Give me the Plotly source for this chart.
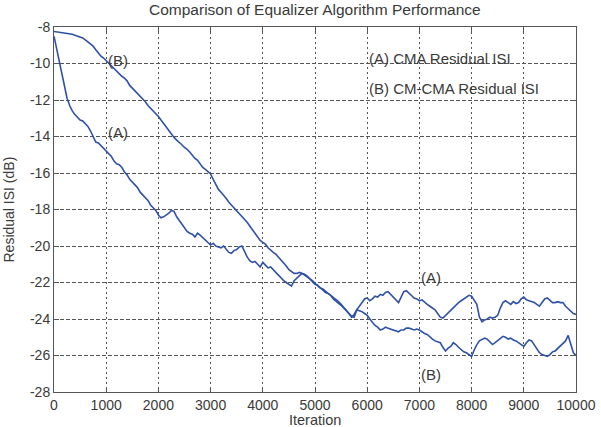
import plotly.graph_objects as go

iterations = list(range(0, 10001, 50))

cma_isi = [
    -8.5, -9.2, -9.9, -10.6, -11.2, -11.9, -12.3, -12.6, -12.8, -12.95,
    -13.1, -13.15, -13.3, -13.45, -13.7, -14.0, -14.3, -14.35, -14.5, -14.7,
    -14.85, -14.95, -15.1, -15.35, -15.5, -15.55, -15.7, -15.95, -16.1, -16.35,
    -16.5, -16.6, -16.8, -17.05, -17.2, -17.3, -17.5, -17.75, -17.9, -18.05,
    -18.3, -18.45, -18.4, -18.3, -18.2, -18.05, -18.1, -18.4, -18.6, -18.75,
    -19.0, -19.2, -19.3, -19.35, -19.5, -19.3, -19.4, -19.55, -19.7, -19.8,
    -19.95, -19.85, -20.0, -20.05, -20.1, -20.0, -20.2, -20.35, -20.4, -20.25,
    -20.2, -20.05, -20.0, -20.3, -20.6, -20.8, -20.9, -20.85, -21.0, -21.15,
    -20.9, -21.05, -21.2, -21.15, -21.3, -21.5, -21.6, -21.75, -21.9, -22.0,
    -22.1, -22.2, -21.9, -21.75, -21.6, -21.5, -21.6, -21.7, -21.8, -21.9,
    -22.05, -22.2, -22.3, -22.35, -22.5, -22.6, -22.7, -22.8, -22.9, -23.05,
    -23.2, -23.35, -23.5, -23.7, -23.9, -23.75, -23.5, -23.3, -23.1, -22.9,
    -22.85, -23.0, -22.9, -22.75, -22.8, -22.65, -22.7, -22.55, -22.5, -22.65,
    -22.8, -23.0, -23.1, -22.8, -22.5, -22.45, -22.6, -22.75, -22.85, -22.9,
    -23.0, -22.95, -23.1, -23.2, -23.3, -23.4, -23.5, -23.7, -23.9, -23.95,
    -23.8, -23.65, -23.5, -23.35, -23.2, -23.1, -23.0, -22.9, -22.8, -22.7,
    -22.75, -22.95, -23.2, -23.9, -24.15, -24.05, -24.0, -23.9, -23.95, -23.9,
    -23.8, -23.4, -23.1, -23.0, -23.1, -23.2, -23.05, -23.15, -23.1, -22.9,
    -22.8, -22.95, -23.0, -23.05, -23.1, -23.2, -23.3, -23.1, -22.9, -22.85,
    -23.0, -23.1, -23.1, -23.05, -23.1, -23.1, -23.3, -23.45, -23.6, -23.7,
    -23.75,
]

cmcma_isi = [
    -8.25, -8.27, -8.28, -8.3, -8.3, -8.33, -8.35, -8.4, -8.45, -8.5,
    -8.55, -8.6, -8.7, -8.8, -8.9, -9.05, -9.25, -9.45, -9.6, -9.7,
    -9.85, -9.95, -10.1, -10.3, -10.4, -10.55, -10.7, -10.8, -10.95, -11.2,
    -11.35, -11.45, -11.6, -11.8, -11.95, -12.1, -12.3, -12.45, -12.6, -12.7,
    -12.9, -13.1, -13.3, -13.5, -13.7, -13.85, -14.05, -14.2, -14.3, -14.45,
    -14.6, -14.7, -14.85, -15.05, -15.2, -15.3, -15.5, -15.7, -15.8, -15.9,
    -16.05, -16.35, -16.65, -16.9, -17.05, -17.2, -17.4, -17.6, -17.75, -17.9,
    -18.05, -18.25, -18.4, -18.5, -18.7, -18.9, -19.1, -19.3, -19.5, -19.7,
    -19.8, -19.9, -20.1, -20.25, -20.35, -20.45, -20.6, -20.8, -20.9, -21.1,
    -21.3, -21.4, -21.5, -21.5, -21.45, -21.5, -21.55, -21.65, -21.8, -21.95,
    -22.1, -22.15, -22.3, -22.45, -22.55, -22.6, -22.7, -22.9, -23.0, -23.1,
    -23.25, -23.4, -23.55, -23.75, -23.85, -23.9, -23.5, -23.55, -23.6, -23.7,
    -23.8, -24.0, -24.2, -24.35, -24.45, -24.6, -24.55, -24.45, -24.5, -24.55,
    -24.6, -24.65, -24.7, -24.6, -24.6, -24.5, -24.5, -24.55, -24.6, -24.55,
    -24.6, -24.7, -24.8, -24.85, -25.0, -25.1, -25.2, -25.25, -25.3, -25.55,
    -25.75, -25.6, -25.5, -25.3, -25.4, -25.55, -25.7, -25.8, -25.85, -25.95,
    -26.05, -25.7, -25.4, -25.2, -25.1, -25.05, -25.1, -25.25, -25.4, -25.3,
    -25.2, -25.05, -24.95, -25.0, -25.1, -25.05, -25.15, -25.2, -25.3, -25.4,
    -25.5, -25.3, -25.15, -25.2, -25.4, -25.6, -25.85, -25.95, -26.0, -26.05,
    -25.95, -25.8, -25.75, -25.6, -25.5, -25.35, -25.2, -24.9, -25.4, -25.85,
    -26.0,
]

x_ticks = list(range(0, 10001, 1000))
x_ticktext = [str(v) for v in x_ticks]
y_ticks = list(range(-28, -7, 2))
y_ticktext = [str(v) for v in y_ticks]

line_color = "#2f52a8"
text_color = "#3a3a3a"
font_family = "Liberation Sans, Arial, sans-serif"

fig = go.Figure()
fig.add_trace(go.Scatter(x=iterations, y=cma_isi, mode="lines",
                         line=dict(color=line_color, width=1.6), showlegend=False))
fig.add_trace(go.Scatter(x=iterations, y=cmcma_isi, mode="lines",
                         line=dict(color=line_color, width=1.6), showlegend=False))

labels = [
    (1000, -9.85, "(B)"),
    (1000, -13.8, "(A)"),
    (6000, -9.7, "(A) CMA Residual ISI"),
    (6000, -11.35, "(B) CM-CMA Residual ISI"),
    (7000, -21.75, "(A)"),
    (7000, -27.05, "(B)"),
]
for lx, ly, lt in labels:
    fig.add_annotation(x=lx, y=ly, text=lt, xref="x", yref="y", showarrow=False,
                       xanchor="left", yanchor="middle",
                       font=dict(size=15, color=text_color, family=font_family))

fig.add_annotation(x=0.5, y=1.0, xref="paper", yref="paper", yshift=18,
                   text="Comparison of Equalizer Algorithm Performance", showarrow=False,
                   xanchor="center", yanchor="middle",
                   font=dict(size=15.5, color=text_color, family=font_family))
fig.add_annotation(x=0.5, y=0.0, xref="paper", yref="paper", yshift=-28,
                   text="Iteration", showarrow=False,
                   xanchor="center", yanchor="middle",
                   font=dict(size=14.5, color=text_color, family=font_family))
fig.add_annotation(x=0.0, y=0.5, xref="paper", yref="paper", xshift=-46,
                   text="Residual ISI (dB)", showarrow=False, textangle=-90,
                   xanchor="center", yanchor="middle",
                   font=dict(size=14, color=text_color, family=font_family))

axis_common = dict(
    showline=True, linecolor="#555555", linewidth=1, mirror="ticks",
    ticks="inside", ticklen=5, tickcolor="#555555",
    showgrid=True, gridcolor="#555555", gridwidth=1,
    zeroline=False, automargin=False,
    tickfont=dict(size=14, color=text_color, family=font_family),
)

fig.update_xaxes(range=[0, 10000], tickvals=x_ticks, ticktext=x_ticktext,
                 griddash="2px,3px", **axis_common)
fig.update_yaxes(range=[-28, -8], tickvals=y_ticks, ticktext=y_ticktext,
                 griddash="4px,2px", **axis_common)

fig.update_layout(
    width=601, height=427,
    margin=dict(l=54, r=25, t=27, b=35),
    plot_bgcolor="white", paper_bgcolor="white",
    font=dict(family=font_family, color=text_color),
)

fig.write_html("out.html")
